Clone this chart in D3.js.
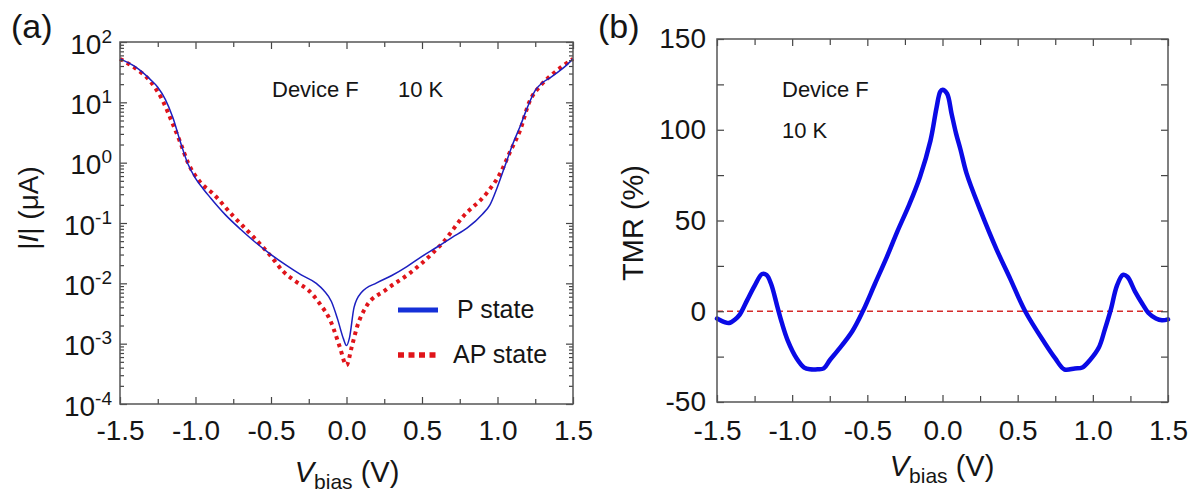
<!DOCTYPE html>
<html>
<head>
<meta charset="utf-8">
<script src="https://d3js.org/d3.v7.min.js"></script>
<style>
  body { margin: 0; background: #fff; }
  svg text { font-family: Arial, "Liberation Sans", sans-serif; fill: #151515; }
  .tick line { stroke: #444; stroke-width: 1.2; }
</style>
</head>
<body>
<div id="chart"></div>
<script>
// (a) |I| (uA) vs Vbias
var vP = [-1.5, -1.4, -1.3, -1.25, -1.2, -1.15, -1.1, -1.05, -1.0, -0.95, -0.9, -0.8, -0.7, -0.6, -0.5, -0.4, -0.3, -0.2, -0.15, -0.1, -0.06, -0.02, 0,
          0.02, 0.05, 0.1, 0.2, 0.3, 0.4, 0.5, 0.6, 0.7, 0.8, 0.9, 0.95, 1.0, 1.05, 1.1, 1.15, 1.2, 1.25, 1.3, 1.35, 1.4, 1.45, 1.5];
var iP = [52.5, 38.9, 24, 17.8, 11.2, 5.6, 2.2, 0.95, 0.55, 0.37, 0.26, 0.135, 0.078, 0.047, 0.03, 0.02, 0.0138, 0.01, 0.0076, 0.005, 0.0026, 0.0012, 0.00093,
          0.00126, 0.004, 0.0071, 0.0102, 0.0135, 0.019, 0.028, 0.04, 0.058, 0.083, 0.14, 0.2, 0.4, 0.89, 2.0, 4.0, 8.5, 15.8, 21.4, 25.7, 31.6, 39.8, 52.5];

var vAP = [-1.5, -1.4, -1.3, -1.22, -1.16, -1.1, -1.05, -0.97, -0.88, -0.75, -0.62, -0.5, -0.42, -0.33, -0.25, -0.18, -0.1, -0.045, 0,
           0.035, 0.07, 0.13, 0.26, 0.42, 0.57, 0.64, 0.77, 0.93, 1.02, 1.08, 1.15, 1.21, 1.29, 1.38, 1.5];
var iAP = [52.5, 37, 22.4, 11, 5, 2.14, 1.0, 0.48, 0.3, 0.13, 0.06, 0.028, 0.0158, 0.0105, 0.0076, 0.0047, 0.0022, 0.00089, 0.00044,
           0.00089, 0.0019, 0.0041, 0.0078, 0.0148, 0.0316, 0.048, 0.126, 0.316, 0.68, 1.45, 3.47, 10, 19.5, 31.6, 52.5];

// (b) TMR (%) vs Vbias
var vTMR = [-1.5, -1.45, -1.42, -1.38, -1.35, -1.3, -1.25, -1.2, -1.17, -1.14, -1.1, -1.07, -1.03, -0.97, -0.92, -0.88, -0.83, -0.79, -0.75, -0.7, -0.6, -0.53,
            -0.45, -0.37, -0.3, -0.22, -0.15, -0.08, -0.04, -0.015, 0.0, 0.03, 0.06, 0.09, 0.12, 0.16, 0.25, 0.36, 0.45, 0.55, 0.68, 0.75, 0.81, 0.88,
            0.93, 0.98, 1.04, 1.08, 1.12, 1.16, 1.2, 1.23, 1.28, 1.33, 1.37, 1.42, 1.46, 1.5];
var tmr = [-4, -6, -6.5, -4.5, -2, 6, 14, 20.5, 20, 15, 3, -6, -16, -26, -31, -32, -32, -31.5, -27, -22, -11, 0,
           15, 30, 44, 59, 74, 94, 112, 121, 122, 120, 109, 98, 89, 76, 56, 34, 18, 0, -17.5, -26, -32, -31.5,
           -31, -27, -20, -10, 1, 14, 20, 19, 11, 4, -1, -4, -5, -4.5];

var xTicks = [-1.5, -1.0, -0.5, 0.0, 0.5, 1.0, 1.5];
var xMinor = [-1.25, -0.75, -0.25, 0.25, 0.75, 1.25];
var decades = [1e-4, 1e-3, 1e-2, 1e-1, 1e0, 1e1, 1e2];
var tmrTicks = [-50, 0, 50, 100, 150];
var tmrMinor = [-25, 25, 75, 125];

var svg = d3.select("#chart").append("svg")
    .attr("width", 1199)
    .attr("height", 495);

// log minor ticks 2..9 in each decade
var logMinor = [];
for (var k = -4; k < 2; k++) {
  for (var m = 2; m < 10; m++) logMinor.push(m * Math.pow(10, k));
}

function drawAxes(x, y, o) {
  var x0 = x.range()[0], x1 = x.range()[1], yb = y.range()[0], yt = y.range()[1];
  function clean(g) { g.select(".domain").remove(); }

  svg.append("g").attr("transform", `translate(0,${yb})`)
    .call(d3.axisBottom(x).tickValues(xTicks).tickSize(-7).tickPadding(o.xPad).tickFormat(d => d.toFixed(1)))
    .call(clean)
    .selectAll("text").style("font-size", "28px").attr("fill", "#151515");
  svg.append("g").attr("transform", `translate(0,${yb})`)
    .call(d3.axisBottom(x).tickValues(xMinor).tickSize(-o.xMinorLen).tickFormat(""))
    .call(clean);
  svg.append("g").attr("transform", `translate(0,${yt})`)
    .call(d3.axisTop(x).tickValues(xTicks).tickSize(-7).tickFormat(""))
    .call(clean);
  svg.append("g").attr("transform", `translate(0,${yt})`)
    .call(d3.axisTop(x).tickValues(xMinor).tickSize(-o.xMinorLen).tickFormat(""))
    .call(clean);

  var gl = svg.append("g").attr("transform", `translate(${x0},0)`)
    .call(d3.axisLeft(y).tickValues(o.yTicks).tickSize(-7).tickPadding(o.yPad).tickFormat(o.yFmt))
    .call(clean);
  gl.selectAll("text").style("font-size", "28px").attr("fill", "#151515").attr("dy", o.yDy);
  svg.append("g").attr("transform", `translate(${x0},0)`)
    .call(d3.axisLeft(y).tickValues(o.yMinor).tickSize(-o.yMinorLen).tickFormat(""))
    .call(clean);
  svg.append("g").attr("transform", `translate(${x1},0)`)
    .call(d3.axisRight(y).tickValues(o.yTicks).tickSize(-7).tickFormat(""))
    .call(clean);
  svg.append("g").attr("transform", `translate(${x1},0)`)
    .call(d3.axisRight(y).tickValues(o.yMinor).tickSize(-o.yMinorLen).tickFormat(""))
    .call(clean);

  svg.append("rect")
    .attr("x", x0).attr("y", yt)
    .attr("width", x1 - x0).attr("height", yb - yt)
    .attr("fill", "none").attr("stroke", "#555").attr("stroke-width", 1.5);
  return gl;
}

// ---------- panel (a) ----------
var xA = d3.scaleLinear().domain([-1.5, 1.5]).range([120, 573]);
var yA = d3.scaleLog().domain([1e-4, 1e2]).range([404, 42]);

var lineA = d3.line()
    .x(d => xA(d[0]))
    .y(d => yA(d[1]))
    .curve(d3.curveMonotoneX);

svg.append("path")
    .datum(d3.zip(vAP, iAP))
    .attr("d", lineA)
    .attr("fill", "none")
    .attr("stroke", "#e0141a")
    .attr("stroke-width", 4)
    .attr("stroke-dasharray", "3.6,4.2");

svg.append("path")
    .datum(d3.zip(vP, iP))
    .attr("d", lineA)
    .attr("fill", "none")
    .attr("stroke", "#1c1fc0")
    .attr("stroke-width", 1.5);

var glA = drawAxes(xA, yA, {
  xPad: 16, xMinorLen: 5, yTicks: decades, yMinor: logMinor, yMinorLen: 4,
  yPad: 8, yDy: "0.4em", yFmt: d => "10"
});
glA.selectAll(".tick text").each(function(d) {
  d3.select(this).append("tspan")
    .attr("dy", -11)
    .style("font-size", "19px")
    .text(Math.round(Math.log10(d)));
});

// legend
svg.append("line").attr("x1", 398).attr("x2", 438).attr("y1", 310).attr("y2", 310)
    .attr("stroke", "#1530d8").attr("stroke-width", 5);
svg.append("text").attr("x", 457).attr("y", 318).style("font-size", "25px").text("P state");
svg.append("line").attr("x1", 398).attr("x2", 440).attr("y1", 355).attr("y2", 355)
    .attr("stroke", "#e0141a").attr("stroke-width", 5.5).attr("stroke-dasharray", "6,4.5");
svg.append("text").attr("x", 453).attr("y", 363).style("font-size", "25px").text("AP state");

svg.append("text").attr("x", 272).attr("y", 97).style("font-size", "22px").text("Device F");
svg.append("text").attr("x", 398).attr("y", 97).style("font-size", "22px").text("10 K");

svg.append("text").attr("x", 11).attr("y", 38).style("font-size", "34px").text("(a)");

var tA = svg.append("text")
    .attr("transform", "translate(38,208) rotate(-90)")
    .attr("text-anchor", "middle")
    .style("font-size", "28px");
tA.append("tspan").text("|");
tA.append("tspan").style("font-style", "italic").text("I");
tA.append("tspan").text("| (μA)");

var xtA = svg.append("text").attr("x", 347).attr("y", 482)
    .attr("text-anchor", "middle").style("font-size", "29px");
xtA.append("tspan").style("font-style", "italic").text("V");
xtA.append("tspan").attr("dy", 7).style("font-size", "21px").text("bias");
xtA.append("tspan").attr("dy", -7).text(" (V)");

// ---------- panel (b) ----------
var xB = d3.scaleLinear().domain([-1.5, 1.5]).range([717, 1168]);
var yB = d3.scaleLinear().domain([-50, 150]).range([402, 39]);

svg.append("line")
    .attr("x1", xB(-1.5)).attr("x2", xB(1.5))
    .attr("y1", yB(0)).attr("y2", yB(0))
    .attr("stroke", "#d42a2a").attr("stroke-width", 1.3)
    .attr("stroke-dasharray", "6,4");

svg.append("path")
    .datum(d3.zip(vTMR, tmr))
    .attr("d", d3.line().x(d => xB(d[0])).y(d => yB(d[1])).curve(d3.curveCatmullRom.alpha(0.5)))
    .attr("fill", "none")
    .attr("stroke", "#0a0ae6")
    .attr("stroke-width", 4.5)
    .attr("stroke-linejoin", "round")
    .attr("stroke-linecap", "round");

drawAxes(xB, yB, {
  xPad: 18, xMinorLen: 6, yTicks: tmrTicks, yMinor: tmrMinor, yMinorLen: 7,
  yPad: 11, yDy: "0.32em", yFmt: d => String(d)
});

svg.append("text").attr("x", 782).attr("y", 97).style("font-size", "22px").text("Device F");
svg.append("text").attr("x", 782).attr("y", 138).style("font-size", "22px").text("10 K");

svg.append("text").attr("x", 598).attr("y", 38).style("font-size", "34px").text("(b)");

svg.append("text")
    .attr("transform", "translate(643,223) rotate(-90)")
    .attr("text-anchor", "middle")
    .style("font-size", "29px")
    .text("TMR (%)");

var xtB = svg.append("text").attr("x", 942).attr("y", 476)
    .attr("text-anchor", "middle").style("font-size", "29px");
xtB.append("tspan").style("font-style", "italic").text("V");
xtB.append("tspan").attr("dy", 7).style("font-size", "21px").text("bias");
xtB.append("tspan").attr("dy", -7).text(" (V)");
</script>
</body>
</html>
